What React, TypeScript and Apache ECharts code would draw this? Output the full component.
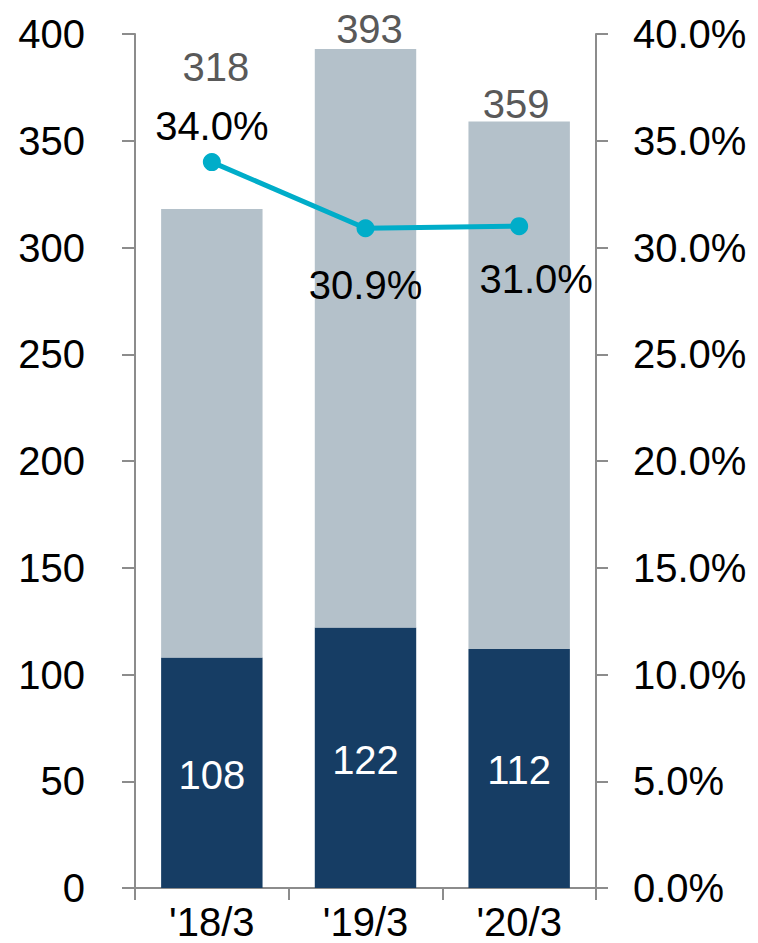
import React, { useEffect, useRef } from "react";
import * as echarts from "echarts";

const categories = ["'18/3", "'19/3", "'20/3"];
const baseValues = [108, 122, 112];
const totalValues = [318, 393, 359];
const ratioValues = [34.0, 30.9, 31.0];
const leftTicks = { min: 0, max: 400, interval: 50 };
const rightTicks = { min: 0, max: 40, interval: 5 };

const FONT = "'Liberation Sans', Arial, sans-serif";
const AXIS = "#8c8c8c";

export default function App() {
  const ref = useRef<HTMLDivElement>(null);
  useEffect(() => {
    const chart = echarts.init(ref.current!, null, { renderer: "svg" });
    const restValues = totalValues.map((t, i) => t - baseValues[i]);
    const totalOffsets = [[4, -122], [4, 0], [-3, 2]];
    const ratioLabels = [
      { position: "top", offset: [0, -2] },
      { position: "bottom", offset: [0, 23] },
      { position: "bottom", offset: [17, 19] },
    ];
    chart.setOption({
      animation: false,
      textStyle: { fontFamily: FONT },
      grid: { left: 135, right: 162, top: 34, bottom: 55 },
      xAxis: {
        type: "category",
        data: categories,
        axisLine: { lineStyle: { color: AXIS, width: 2 } },
        axisTick: { show: true, length: 12, lineStyle: { color: AXIS, width: 2 } },
        axisLabel: {
          color: "#000",
          fontSize: 40,
          fontFamily: FONT,
          margin: 14,
        },
      },
      yAxis: [
        {
          type: "value",
          ...leftTicks,
          axisLine: { show: true, lineStyle: { color: AXIS, width: 2 } },
          axisTick: { show: true, length: 13, lineStyle: { color: AXIS, width: 2 } },
          splitLine: { show: false },
          axisLabel: { color: "#000", fontSize: 40, fontFamily: FONT, margin: 50 },
        },
        {
          type: "value",
          ...rightTicks,
          position: "right",
          axisLine: { show: true, lineStyle: { color: AXIS, width: 2 } },
          axisTick: { show: true, length: 12, lineStyle: { color: AXIS, width: 2 } },
          splitLine: { show: false },
          axisLabel: {
            color: "#000",
            fontSize: 40,
            fontFamily: FONT,
            margin: 37,
            formatter: (v: number) => v.toFixed(1) + "%",
          },
        },
      ],
      series: [
        {
          type: "bar",
          stack: "s",
          barWidth: "66%",
          data: baseValues,
          itemStyle: { color: "#163d64" },
          label: {
            show: true,
            position: "inside",
            offset: [0, 2],
            color: "#fff",
            fontSize: 40,
            fontFamily: FONT,
          },
        },
        {
          type: "bar",
          stack: "s",
          barWidth: "66%",
          data: restValues.map((v, i) => ({
            value: v,
            label: { offset: totalOffsets[i] },
          })),
          itemStyle: { color: "#b4c1ca" },
          label: {
            show: true,
            position: "top",
            distance: 0,
            color: "#595959",
            fontSize: 40,
            fontFamily: FONT,
            formatter: (p: any) => String(totalValues[p.dataIndex]),
          },
        },
        {
          type: "line",
          yAxisIndex: 1,
          data: ratioValues.map((v, i) => ({ value: v, label: ratioLabels[i] })),
          symbol: "circle",
          symbolSize: 18,
          lineStyle: { color: "#00adc9", width: 5 },
          itemStyle: { color: "#00adc9" },
          label: {
            show: true,
            color: "#000",
            fontSize: 40,
            fontFamily: FONT,
            formatter: (p: any) => p.value.toFixed(1) + "%",
          },
        },
      ],
    });
    return () => chart.dispose();
  }, []);
  return (
    <div
      ref={ref}
      style={{ position: "fixed", left: 0, top: 0, width: 758, height: 943, background: "#fff" }}
    />
  );
}
